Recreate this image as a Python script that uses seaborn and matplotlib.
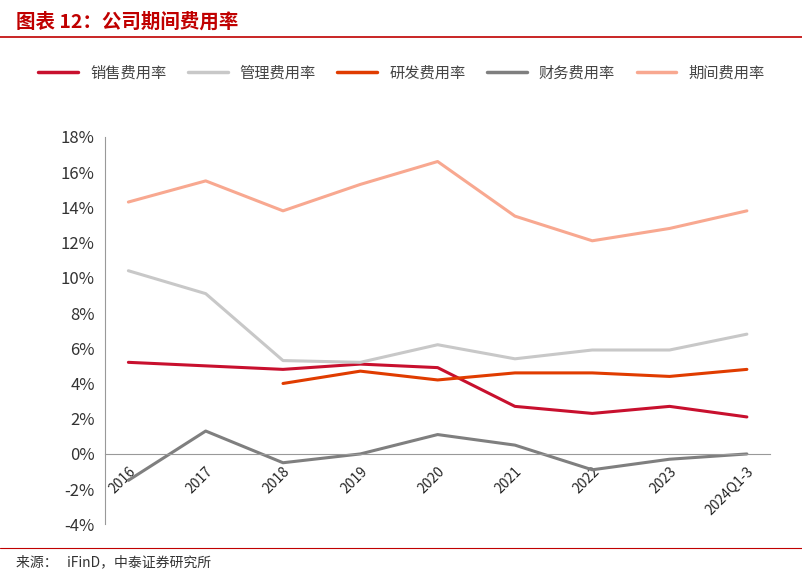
import matplotlib
matplotlib.use("Agg")
import matplotlib.pyplot as plt
import seaborn as sns
import numpy as np
import pandas as pd

years = ["2016", "2017", "2018", "2019", "2020", "2021", "2022", "2023", "2024Q1-3"]
sales = [5.2, 5.0, 4.8, 5.1, 4.9, 2.7, 2.3, 2.7, 2.1]
admin = [10.4, 9.1, 5.3, 5.2, 6.2, 5.4, 5.9, 5.9, 6.8]
rnd = [np.nan, np.nan, 4.0, 4.7, 4.2, 4.6, 4.6, 4.4, 4.8]
finance = [-1.5, 1.3, -0.5, 0.0, 1.1, 0.5, -0.9, -0.3, 0.0]
period = [14.3, 15.5, 13.8, 15.3, 16.6, 13.5, 12.1, 12.8, 13.8]

names = ["销售费用率", "管理费用率", "研发费用率", "财务费用率", "期间费用率"]
colors = ["#C8102E", "#C8C8C8", "#E03C00", "#7F7F7F", "#F8A890"]

df = pd.DataFrame({"year": years, names[0]: sales, names[1]: admin,
                   names[2]: rnd, names[3]: finance, names[4]: period})
long = df.melt(id_vars="year", var_name="series", value_name="value")
long["x"] = long["year"].map({y: i for i, y in enumerate(years)})

sns.set_style("white")
plt.rcParams["font.family"] = ["Noto Sans CJK SC", "DejaVu Sans"]

fig = plt.figure(figsize=(8.03, 5.75), dpi=100)
ax = fig.add_axes([0.131, 0.088, 0.828, 0.674])

sns.lineplot(data=long, x="x", y="value", hue="series", hue_order=names,
             palette=colors, linewidth=2.2, ax=ax, legend=False)

ax.set_ylim(-4, 18)
ax.set_xlim(-0.3, 8.3)
ax.set_yticks(range(-4, 19, 2))
ax.set_yticklabels([f"{v}%" for v in range(-4, 19, 2)], fontsize=12, color="#333333")
ax.set_xticks(range(len(years)))
ax.set_xticklabels(years, fontsize=12, color="#333333")
ax.set_xlabel("")
ax.set_ylabel("")
for s in ["top", "right"]:
    ax.spines[s].set_visible(False)
ax.spines["left"].set_color("#999999")
ax.spines["bottom"].set_position(("data", 0))
ax.spines["bottom"].set_color("#999999")
ax.tick_params(axis="both", length=4, color="#999999", direction="out")
for lbl in ax.get_xticklabels():
    lbl.set_rotation(45)
    lbl.set_ha("right")
    lbl.set_va("top")
    lbl.set_rotation_mode("anchor")

handles = [plt.Line2D([], [], color=c, lw=2.5) for c in colors]
fig.legend(handles, names, loc="center", bbox_to_anchor=(0.5, 0.873), ncol=5,
           frameon=False, fontsize=11, handlelength=2.6, columnspacing=1.4,
           labelcolor="#444444")

fig.text(0.02, 0.962, "图表 12：公司期间费用率", color="#C00000", fontsize=14,
         fontweight="bold", style="italic", va="center")
fig.add_artist(plt.Line2D([0.0, 1.0], [0.935, 0.935], color="#C00000", lw=1.2))
fig.add_artist(plt.Line2D([0.0, 1.0], [0.047, 0.047], color="#C00000", lw=0.8))
fig.text(0.02, 0.022, "来源：   iFinD，中泰证券研究所", fontsize=10, color="#333333", va="center")

fig.savefig("out.png", dpi=100)
